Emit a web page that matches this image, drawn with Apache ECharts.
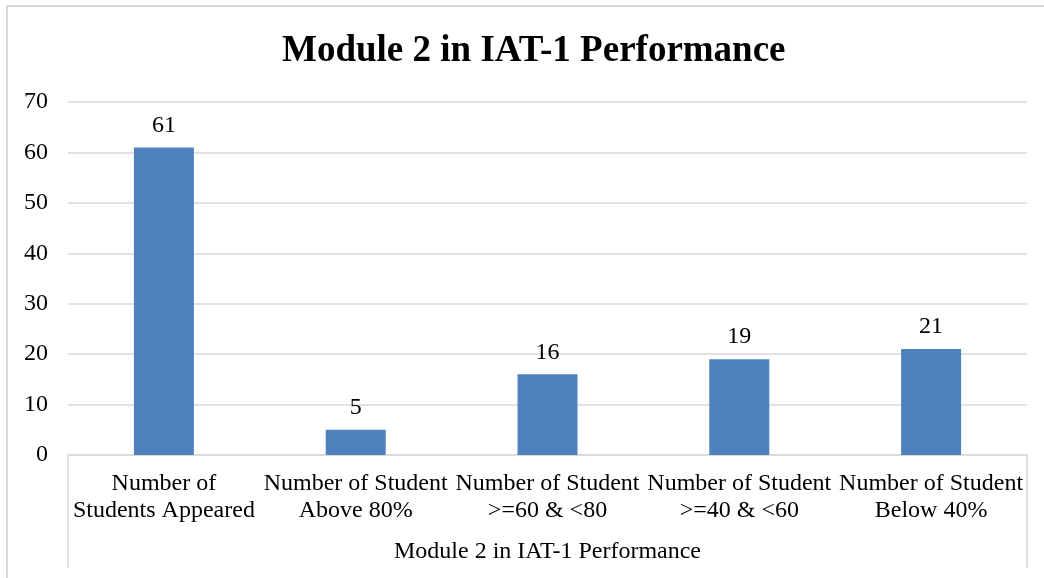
<!DOCTYPE html>
<html>
<head>
<meta charset="utf-8">
<script src="https://cdn.jsdelivr.net/npm/echarts@6/dist/echarts.min.js"></script>
<style>
  html, body { margin: 0; padding: 0; background: #fff; }
  #main { width: 1044px; height: 578px; }
</style>
</head>
<body>
<div id="main"></div>
<script>
// chart data
const categories = [
  'Number of\nStudents Appeared',
  'Number of Student\nAbove 80%',
  'Number of Student\n>=60 & <80',
  'Number of Student\n>=40 & <60',
  'Number of Student\nBelow 40%'
];
const counts = [61, 5, 16, 19, 21];
const groupLabel = ['Module 2 in IAT-1 Performance'];
const yTicks = { min: 0, max: 70, interval: 10 };

const serif = '"Liberation Serif", "Times New Roman", serif';
const gridColor = '#d9d9d9';

const chart = echarts.init(document.getElementById('main'), null, { renderer: 'canvas' });

const ops = {
  backgroundColor: '#fff',
  animation: false,
  title: {
    text: 'Module 2 in IAT-1 Performance',
    left: 277,
    top: 28,
    textStyle: { fontFamily: serif, fontSize: 37, fontWeight: 'bold', color: '#000' }
  },
  graphic: [{
    type: 'rect',
    shape: { x: 7, y: 6, width: 1045, height: 590 },
    style: { fill: 'none', stroke: gridColor, lineWidth: 2 },
    silent: true
  }],
  grid: { left: 68, right: 17, top: 102, bottom: 123, containLabel: false },
  xAxis: [{
    type: 'category',
    data: categories,
    position: 'bottom',
    axisLine: { show: true, lineStyle: { color: gridColor, width: 1.5 } },
    axisTick: { show: false },
    axisLabel: {
      interval: 0,
      margin: 15,
      fontFamily: serif,
      fontSize: 24,
      lineHeight: 27,
      color: '#000'
    }
  }, {
    type: 'category',
    data: groupLabel,
    position: 'bottom',
    axisLine: { show: false },
    axisTick: { show: true, length: 113, lineStyle: { color: gridColor, width: 1.5 } },
    axisLabel: {
      margin: 85,
      fontFamily: serif,
      fontSize: 24,
      color: '#000'
    }
  }],
  yAxis: {
    type: 'value',
    min: yTicks.min,
    max: yTicks.max,
    interval: yTicks.interval,
    axisLine: { show: false },
    axisTick: { show: false },
    splitLine: { lineStyle: { color: gridColor, width: 1.5 } },
    axisLabel: {
      margin: 20,
      fontFamily: serif,
      fontSize: 24,
      color: '#000'
    }
  },
  series: [{
    type: 'bar',
    data: counts,
    barWidth: 60,
    itemStyle: { color: '#4f81bd' },
    label: {
      show: true,
      position: 'top',
      distance: 10,
      fontFamily: serif,
      fontSize: 24,
      color: '#000'
    }
  }]
};

chart.setOption(ops);
</script>
</body>
</html>
